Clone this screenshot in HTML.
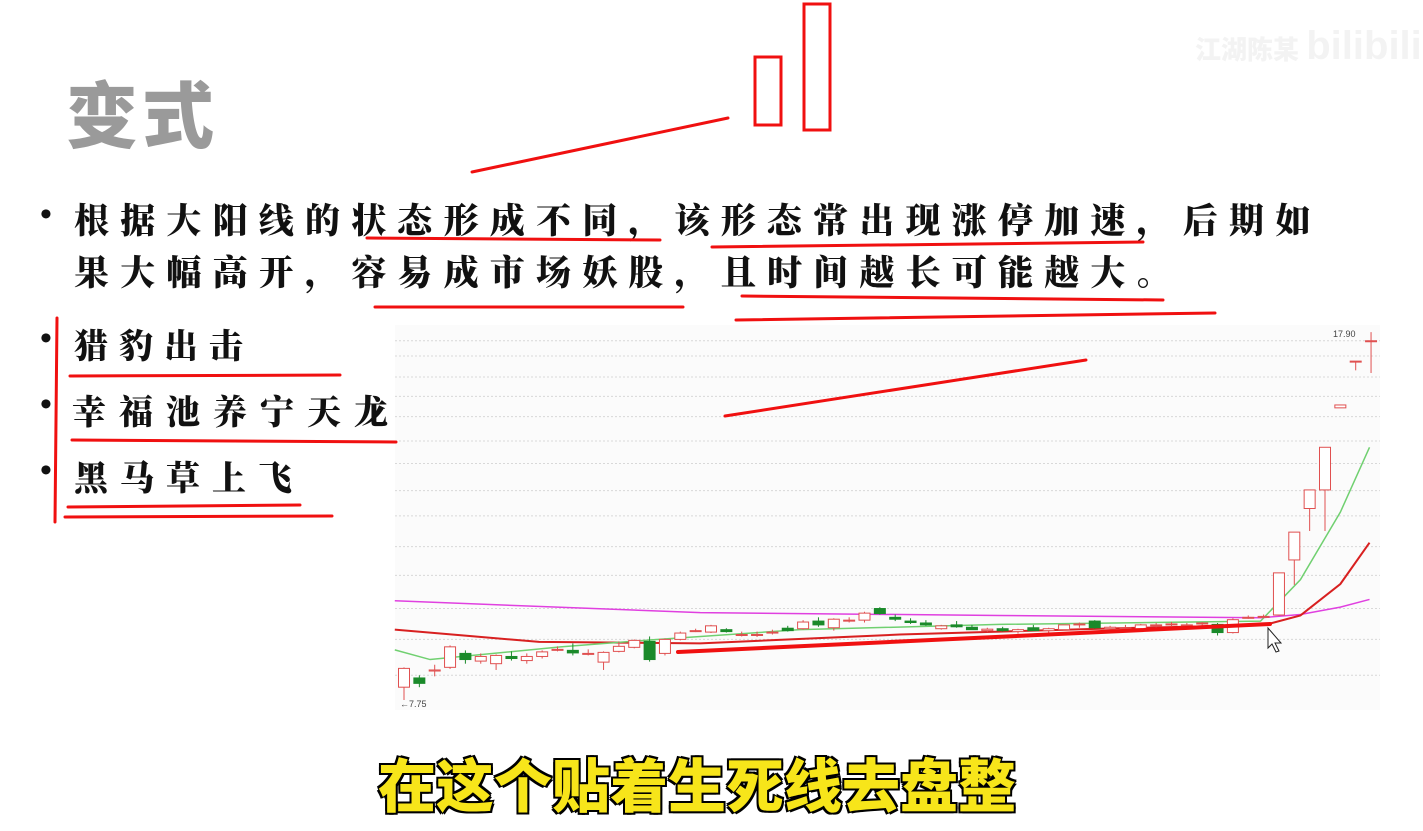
<!DOCTYPE html>
<html><head><meta charset="utf-8"><style>
html,body{margin:0;padding:0;background:#fff;width:1423px;height:831px;overflow:hidden}
#wrap{position:relative;width:1423px;height:831px}
.t{position:absolute;font-family:"Liberation Serif","Noto Serif CJK SC",serif;font-weight:900;color:#111;white-space:nowrap}
</style></head><body>
<div id="wrap">
<div class="t" style="left:66px;top:58px;font-size:72px;color:#9a9a9a;font-family:'Liberation Sans','Noto Sans CJK SC',sans-serif;letter-spacing:4px">变式</div>
<div class="t" style="left:1195px;top:24px;font-size:26px;color:#f3f3f3;font-family:'Liberation Sans','Noto Sans CJK SC',sans-serif">江湖陈某 <span style="font-size:40px;font-weight:900">bilibili</span></div>
<div class="t" style="left:40px;top:196px;font-size:34px">•</div>
<div class="t" style="left:74px;top:194px;font-size:35px;letter-spacing:11.2px">根据大阳线的状态形成不同，该形态常出现涨停加速，后期如</div>
<div class="t" style="left:74px;top:246px;font-size:35px;letter-spacing:11.2px">果大幅高开，容易成市场妖股，且时间越长可能越大。</div>
<div class="t" style="left:40px;top:320px;font-size:34px">•</div>
<div class="t" style="left:74px;top:319px;font-size:34px;letter-spacing:11px">猎豹出击</div>
<div class="t" style="left:40px;top:386px;font-size:34px">•</div>
<div class="t" style="left:72px;top:385px;font-size:34px;letter-spacing:13px">幸福池养宁天龙</div>
<div class="t" style="left:40px;top:452px;font-size:34px">•</div>
<div class="t" style="left:74px;top:451px;font-size:34px;letter-spacing:12px">黑马草上飞</div>

<svg id="chart" width="1423" height="831" style="position:absolute;left:0;top:0">
<rect x="395" y="325" width="985" height="385" fill="#fbfbfb"/>
<g id="grid"></g><g id="ma"></g><g id="candles"></g>
<text x="1333" y="337" font-size="9" fill="#444" font-family="Liberation Sans">17.90</text>
<text x="400" y="707" font-size="9" fill="#444" font-family="Liberation Sans">←7.75</text>
<g id="marks" stroke="#f01010" fill="none" stroke-linecap="round">
<line x1="472" y1="172" x2="728" y2="118" stroke-width="3"/>
<rect x="755" y="57" width="26" height="68" stroke-width="3"/>
<rect x="804" y="4" width="26" height="126" stroke-width="3"/>
<line x1="367" y1="238" x2="660" y2="240" stroke-width="3"/>
<line x1="712" y1="247" x2="1143" y2="242" stroke-width="3"/>
<line x1="375" y1="307" x2="683" y2="307" stroke-width="3"/>
<line x1="742" y1="296" x2="1163" y2="300" stroke-width="3"/>
<line x1="736" y1="320" x2="1215" y2="313" stroke-width="3"/>
<line x1="57" y1="318" x2="55" y2="522" stroke-width="3"/>
<line x1="70" y1="376" x2="340" y2="375" stroke-width="3"/>
<line x1="72" y1="440" x2="396" y2="442" stroke-width="3"/>
<line x1="68" y1="507" x2="300" y2="505" stroke-width="3"/>
<line x1="65" y1="517" x2="332" y2="516" stroke-width="3"/>
<line x1="725" y1="416" x2="1086" y2="360" stroke-width="3"/>
<line x1="678" y1="652" x2="1270" y2="624" stroke-width="4"/>
</g>
<path d="M1268 628 l0 20 l4 -4 l4 8 l3 -1 l-4 -8 l6 0 z" fill="#fff" stroke="#222" stroke-width="1"/>
</svg>

<div class="t" style="left:378px;top:740px;font-size:58px;color:#f7e51a;font-family:'Liberation Sans','Noto Sans CJK SC',sans-serif;font-weight:900;-webkit-text-stroke:2px #000;paint-order:stroke fill;text-shadow:2px 2px 0 #000,-2px -2px 0 #000,2px -2px 0 #000,-2px 2px 0 #000">在这个贴着生死线去盘整</div>
</div>
<script>
const opens=[7.98,8.15,8.28,8.35,8.62,8.47,8.42,8.56,8.48,8.56,8.7,8.68,8.62,8.45,8.66,8.74,8.86,8.62,8.9,9.08,9.05,9.1,9.0,9.0,9.05,9.13,9.12,9.28,9.14,9.3,9.3,9.55,9.36,9.28,9.24,9.12,9.2,9.15,9.08,9.12,9.06,9.14,9.08,9.1,9.2,9.28,9.12,9.14,9.12,9.18,9.2,9.2,9.22,9.21,9.04,9.36,9.38,9.41,10.67,12.0,12.52,15.1,16.8,17.6];
const highs=[8.35,8.2,8.4,8.78,8.68,8.62,8.6,8.66,8.62,8.68,8.76,8.82,8.7,8.66,8.86,8.9,8.96,8.92,9.06,9.12,9.2,9.13,9.06,9.06,9.1,9.18,9.3,9.36,9.34,9.36,9.48,9.58,9.42,9.34,9.3,9.2,9.28,9.2,9.14,9.16,9.12,9.2,9.14,9.18,9.25,9.3,9.18,9.2,9.22,9.24,9.26,9.24,9.26,9.24,9.34,9.4,9.42,10.36,11.37,12.52,13.8,15.2,16.8,17.95];
const lows=[7.75,7.98,8.18,8.32,8.42,8.42,8.3,8.48,8.42,8.52,8.66,8.58,8.58,8.3,8.64,8.72,8.46,8.58,8.88,9.05,9.03,9.04,8.96,8.95,9.0,9.06,9.1,9.16,9.08,9.25,9.25,9.42,9.28,9.22,9.18,9.1,9.14,9.1,9.05,9.06,9.02,9.08,9.04,9.08,9.14,9.12,9.08,9.1,9.1,9.14,9.16,9.15,9.18,8.98,9.02,9.33,9.34,9.4,10.08,11.4,11.4,15.1,16.45,16.35];
const closes=[8.33,8.05,8.3,8.75,8.5,8.56,8.58,8.52,8.56,8.65,8.7,8.63,8.62,8.64,8.76,8.88,8.5,8.9,9.03,9.08,9.18,9.06,9.0,9.0,9.05,9.08,9.26,9.2,9.32,9.3,9.45,9.44,9.32,9.25,9.2,9.18,9.16,9.1,9.11,9.08,9.1,9.08,9.12,9.2,9.22,9.14,9.15,9.14,9.2,9.2,9.22,9.2,9.24,9.04,9.31,9.36,9.38,10.36,11.37,12.52,13.8,15.2,16.8,17.6];
const maIdxSlow=[-0.6,19.3,38.8,55.8,58.4,61,62.9];
const maSlow=[9.72,9.46,9.4,9.35,9.42,9.58,9.75];
const maIdxMid=[-0.6,8.8,19.3,32.3,45.3,56.1,58.4,61,62.9];
const maMid=[9.1,8.85,8.82,9.0,9.12,9.2,9.4,10.1,11.1];
const maIdxFast=[-0.6,1.7,10.2,16.1,25.8,38.8,55.8,58.4,61,62.9];
const maFast=[8.69,8.5,8.75,8.89,9.1,9.21,9.28,10.2,11.9,13.8];
const gridPrices=[17.6,17.0,16.2,15.5,14.8,14.0,13.3,12.5,11.8,11.0,10.3,9.55,8.9,8.2];
const NS='http://www.w3.org/2000/svg';
function y(p){return 700-438*(Math.log(p)-Math.log(7.75));}
function x(i){return 404+15.35*i;}
const g=document.getElementById('grid');
gridPrices.forEach(p=>{const l=document.createElementNS(NS,'line');


l.setAttribute('x1',395);l.setAttribute('x2',1380);l.setAttribute('y1',y(p));l.setAttribute('y2',y(p));
l.setAttribute('stroke','#d8d8d8');l.setAttribute('stroke-dasharray','2,2');g.appendChild(l);});
const ma=document.getElementById('ma');
[[maIdxSlow,maSlow,'#e040e0','ma-slow-line'],[maIdxMid,maMid,'#d82020','ma-mid-line'],[maIdxFast,maFast,'#70d070','ma-fast-line']].forEach(s=>{
const pl=document.createElementNS(NS,'polyline');


pl.setAttribute('points',s[0].map((i,k)=>x(i)+','+y(s[1][k])).join(' '));
pl.setAttribute('fill','none');pl.setAttribute('stroke',s[2]);pl.setAttribute('stroke-width',s[3]=='ma-mid-line'?2:1.5);ma.appendChild(pl);});
const cg=document.getElementById('candles');
opens.forEach((o,i)=>{const c=closes[i],up=c>=o,col=up?'#e05050':'#1a8a2a',cx=x(i);
const w=document.createElementNS(NS,'line');


w.setAttribute('x1',cx);w.setAttribute('x2',cx);w.setAttribute('y1',y(highs[i]));w.setAttribute('y2',y(lows[i]));w.setAttribute('stroke',col);cg.appendChild(w);
const r=document.createElementNS(NS,'rect');


const top=y(Math.max(o,c)),h=Math.max(1,y(Math.min(o,c))-top);
r.setAttribute('x',cx-5.5);r.setAttribute('width',11);r.setAttribute('y',top);r.setAttribute('height',h);
r.setAttribute('fill',up?'#fff':col);r.setAttribute('stroke',col);cg.appendChild(r);});
</script>
</body></html>
